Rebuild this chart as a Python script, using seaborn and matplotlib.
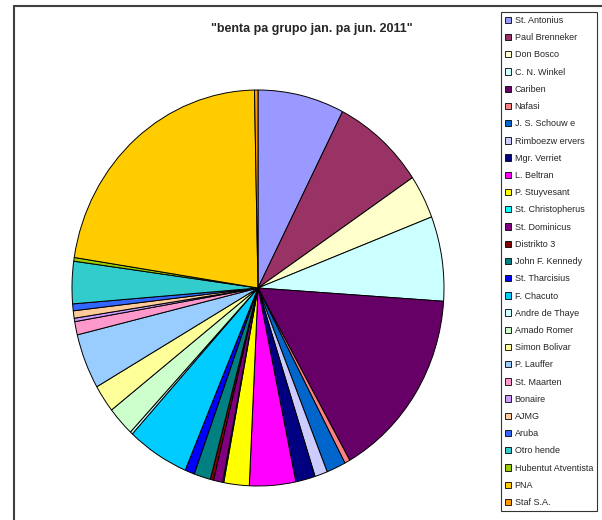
import matplotlib
matplotlib.use("Agg")
import seaborn as sns
from matplotlib import pyplot as plt
from matplotlib.lines import Line2D
from matplotlib.patches import Patch

groups = [
    "St. Antonius", "Paul Brenneker", "Don Bosco", "C. N. Winkel", "Cariben",
    "Nafasi", "J. S. Schouw e", "Rimboezw ervers", "Mgr. Verriet", "L. Beltran",
    "P. Stuyvesant", "St. Christopherus", "St. Dominicus", "Distrikto 3",
    "John F. Kennedy", "St. Tharcisius", "F. Chacuto", "Andre de Thaye",
    "Amado Romer", "Simon Bolivar", "P. Lauffer", "St. Maarten", "Bonaire",
    "AJMG", "Aruba", "Otro hende", "Hubentut Atventista", "PNA", "Staf S.A.",
]
benta = [
    7.5, 8.07, 3.56, 6.9, 15.7,
    0.47, 1.67, 1.1, 1.7, 4.0,
    2.2, 0.1, 0.8, 0.28,
    1.44, 0.83, 5.4, 0.22,
    2.4, 2.25, 4.5, 1.08, 0.28,
    0.6, 0.56, 3.44, 0.3, 22.2, 0.3,
]
colors = [
    "#9999FF", "#993366", "#FFFFCC", "#CCFFFF", "#660066",
    "#FF8080", "#0066CC", "#CCCCFF", "#000080", "#FF00FF",
    "#FFFF00", "#00FFFF", "#800080", "#800000",
    "#008080", "#0000FF", "#00CCFF", "#CCFFFF",
    "#CCFFCC", "#FFFF99", "#99CCFF", "#FF99CC", "#CC99FF",
    "#FFCC99", "#3366FF", "#33CCCC", "#99CC00", "#FFCC00", "#FF9900",
]

sns.set_theme(style="white")
plt.rcParams["font.family"] = ["Liberation Sans", "DejaVu Sans"]
palette = sns.color_palette(colors)

W, H = 602, 520
fig = plt.figure(figsize=(W / 100, H / 100), dpi=100)

# pie area (Excel stretches it a little taller than wide)
cx, cy, rx, ry = 258, 288, 186, 198
ax = fig.add_axes([(cx - rx) / W, (H - cy - ry) / H, 2 * rx / W, 2 * ry / H])
wedges, _ = ax.pie(
    benta, colors=palette, startangle=90, counterclock=False,
    wedgeprops=dict(edgecolor="black", linewidth=0.7),
)
ax.set_aspect("auto")
ax.set_xlim(-1.0, 1.0)
ax.set_ylim(-1.0, 1.0)
ax.axis("off")

fig.text(312 / W, 1 - 29 / H, '"benta pa grupo jan. pa jun. 2011"',
         ha="center", va="center", fontsize=9, fontweight="bold")

# chart area frame (cropped)
fig.add_artist(Line2D([14 / W, 1], [1 - 6 / H, 1 - 6 / H], color="#404040", lw=1.5))
fig.add_artist(Line2D([14 / W, 14 / W], [0, 1 - 6 / H], color="#404040", lw=1.5))

handles = [Patch(facecolor=c, edgecolor="black", linewidth=0.6) for c in palette]
leg = fig.legend(
    handles, groups, loc="upper left", bbox_to_anchor=(501 / W, 1 - 12 / H),
    borderaxespad=0, fontsize=6.5, frameon=True, fancybox=False,
    edgecolor="black", handlelength=0.7, handleheight=0.7, handletextpad=0.35,
    labelspacing=0.91, borderpad=0.45,
)
leg.get_frame().set_linewidth(0.8)

fig.savefig("out.png", dpi=100, facecolor="white")
